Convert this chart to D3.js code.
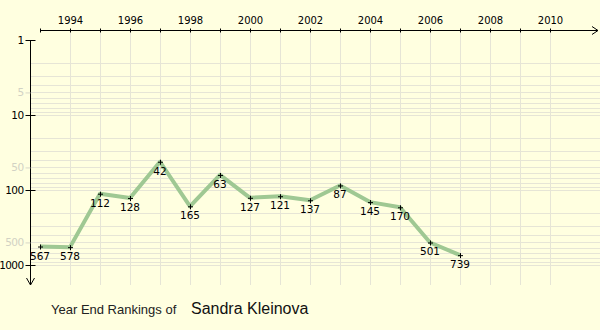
<!DOCTYPE html>
<html><head><meta charset="utf-8">
<script src="https://cdn.jsdelivr.net/npm/d3@7"></script>
<style>
body{margin:0;background:#ffffe0;}
svg{display:block;}
</style></head>
<body>
<svg id="c" width="600" height="330"></svg>
<script>
const years = [1993,1994,1995,1996,1997,1998,1999,2000,2001,2002,2003,2004,2005,2006,2007];
const ranks = [567,578,112,128,42,165,63,127,121,137,87,145,170,501,739];
const yearTicks = [1994,1996,1998,2000,2002,2004,2006,2008,2010];
const majorRankTicks = [1,10,100,1000];
const minorRankTicks = [5,50,500];
const playerName = "Sandra Kleinova";

const svg = d3.select("#c");
svg.append("rect").attr("width",600).attr("height",330).attr("fill","#ffffe0");

const x = d3.scaleLinear().domain([1993,2011]).range([40,580]);
const y = d3.scaleLog().domain([1,1000]).range([40,265]);

// grid
const gridVals = [];
for (let d of [1,10,100]) for (let m=2;m<=10;m++) gridVals.push(d*m);
svg.append("g").selectAll("line").data(gridVals).join("line")
  .attr("x1",30).attr("x2",600)
  .attr("y1",d=>Math.round(y(d))+0.5).attr("y2",d=>Math.round(y(d))+0.5)
  .attr("stroke","#e6e5d6").attr("stroke-width",1);
const gridYears = d3.range(1994,2011);
svg.append("g").selectAll("line").data(gridYears).join("line")
  .attr("x1",d=>Math.round(x(d))+0.5).attr("x2",d=>Math.round(x(d))+0.5)
  .attr("y1",32).attr("y2",285)
  .attr("stroke","#e6e5d6").attr("stroke-width",1);

// top axis
const topAxis = d3.axisTop(x).tickValues(d3.range(1993,2011)).tickSize(2)
  .tickFormat(d=> yearTicks.includes(d) ? String(d) : "");
const gt = svg.append("g").attr("transform","translate(0,30.5)").call(topAxis);
gt.select(".domain").remove();
gt.selectAll(".tick line").attr("y1",2).attr("y2",-2).attr("stroke","#000");
gt.selectAll("text").attr("y",-7).attr("font-family","DejaVu Sans, Verdana, sans-serif").attr("font-size",10).attr("fill","#000");
gt.append("line").attr("x1",40).attr("x2",598).attr("y1",0).attr("y2",0).attr("stroke","#000");
gt.append("path").attr("d","M592,-4 L598,0 L592,4").attr("fill","none").attr("stroke","#000");

// left axis
const leftAxis = d3.axisLeft(y).tickValues(majorRankTicks).tickSize(5).tickFormat(d3.format("d"));
const gl = svg.append("g").attr("transform","translate(30.5,0)").call(leftAxis);
gl.select(".domain").remove();
gl.selectAll(".tick line").attr("x1",-5).attr("x2",5).attr("stroke","#000");
gl.selectAll("text").attr("x",-7).attr("font-family","DejaVu Sans, Verdana, sans-serif").attr("font-size",10.5).attr("letter-spacing",-0.6).attr("fill","#000");
gl.append("line").attr("x1",0).attr("x2",0).attr("y1",40).attr("y2",285).attr("stroke","#000");
gl.append("path").attr("d","M-4,278 L0,285 L4,278").attr("fill","none").attr("stroke","#000");

const minorAxis = d3.axisLeft(y).tickValues(minorRankTicks).tickSize(5).tickFormat(d3.format("d"));
const gm = svg.append("g").attr("transform","translate(30.5,0)").call(minorAxis);
gm.select(".domain").remove();
gm.selectAll(".tick line").attr("stroke","#d8d8c8");
gm.selectAll("text").attr("x",-7).attr("font-family","DejaVu Sans, Verdana, sans-serif").attr("font-size",10.5).attr("letter-spacing",-0.6).attr("fill","#d2d2c4");

// line
const data = years.map((yr,i)=>({yr, r:ranks[i]}));
svg.append("path").datum(data)
  .attr("d", d3.line().x(d=>x(d.yr)).y(d=>y(d.r)))
  .attr("fill","none").attr("stroke","#9fc893").attr("stroke-width",4).attr("stroke-linejoin","round");

// markers
const mk = svg.append("g").selectAll("g").data(data).join("g")
  .attr("transform",d=>`translate(${x(d.yr)},${y(d.r)})`);
mk.append("path").attr("d","M-2,0.5 H3 M0.5,-2 V3").attr("stroke","#000").attr("stroke-width",1);

// labels
svg.append("g").selectAll("text").data(data).join("text")
  .attr("x",d=>x(d.yr)).attr("y",d=>y(d.r)+13)
  .attr("text-anchor","middle")
  .attr("font-family","DejaVu Sans, Verdana, sans-serif").attr("font-size",10.5).attr("fill","#000")
  .text(d=>d.r);

// title
svg.append("text").attr("x",51).attr("y",314)
  .attr("font-family","Liberation Sans, Arial, sans-serif").attr("font-size",13).attr("fill","#222")
  .text("Year End Rankings of");
svg.append("text").attr("x",191).attr("y",314)
  .attr("font-family","Liberation Sans, Arial, sans-serif").attr("font-size",16).attr("fill","#111")
  .text(playerName);
</script>
</body></html>
